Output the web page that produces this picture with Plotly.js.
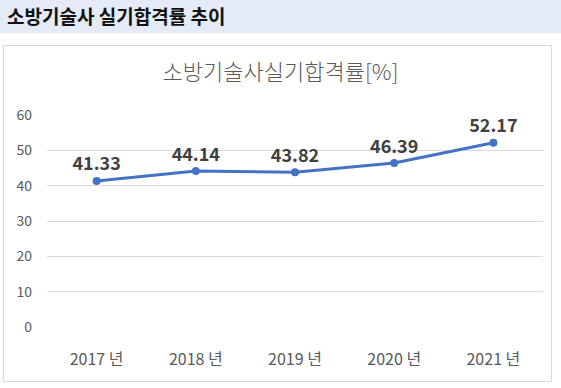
<!DOCTYPE html>
<html>
<head>
<meta charset="utf-8">
<script src="https://cdn.plot.ly/plotly-3.0.1.min.js"></script>
<style>
  html, body { margin: 0; padding: 0; background: #ffffff; }
  #wrap { position: relative; width: 561px; height: 388px; overflow: hidden; }
  #header { position: absolute; left: 0; top: 0; width: 561px; height: 33px; background: #E4EAF6;
    font-family: "Noto Sans CJK KR", "Noto Sans", sans-serif; font-weight: bold; font-size: 19px;
    color: #111111; line-height: 31px; padding-left: 7px; box-sizing: border-box; }
  #box { position: absolute; left: 3px; top: 45px; width: 549px; height: 337px; border: 1px solid #D9D9D9; box-sizing: border-box; }
  #chart { position: absolute; left: 0; top: 0; width: 561px; height: 388px; }
</style>
</head>
<body>
<div id="wrap">
  <div id="header">소방기술사 실기합격률 추이</div>
  <div id="box"></div>
  <div id="chart"></div>
</div>
<script>
const categories = ["2017 년", "2018 년", "2019 년", "2020 년", "2021 년"];
const passRates = [41.33, 44.14, 43.82, 46.39, 52.17];
const yTicks = [0, 10, 20, 30, 40, 50, 60];
const chartTitle = "소방기술사실기합격률[%]";

const trace = {
  x: categories,
  y: passRates,
  type: "scatter",
  mode: "lines+markers+text",
  line: { color: "#4472C4", width: 3 },
  marker: { color: "#4472C4", size: 8 },
  text: passRates.map(v => v.toFixed(2)),
  textposition: "top center",
  textfont: { family: "Noto Sans CJK KR, Noto Sans, sans-serif", size: 18, color: "#404040", weight: "bold" },
  cliponaxis: false,
  hoverinfo: "none"
};

const layout = {
  width: 561,
  height: 388,
  margin: { l: 47, r: 18, t: 115, b: 61 },
  paper_bgcolor: "rgba(0,0,0,0)",
  plot_bgcolor: "rgba(0,0,0,0)",
  showlegend: false,
  title: {
    text: chartTitle,
    font: { family: "Noto Sans CJK KR, sans-serif", size: 22, color: "#595959", weight: 300 },
    x: 0.5, xanchor: "center",
    y: 1 - 72 / 388, yanchor: "middle"
  },
  xaxis: {
    type: "category",
    range: [-0.5, 4.5],
    showgrid: false,
    zeroline: false,
    showline: false,
    ticks: "outside",
    ticklen: 18,
    tickcolor: "rgba(0,0,0,0)",
    tickfont: { family: "Noto Sans CJK KR, sans-serif", size: 16, color: "#595959" }
  },
  yaxis: {
    range: [0, 60],
    tickvals: yTicks,
    ticktext: yTicks.map(String),
    showgrid: true,
    gridcolor: "#D9D9D9",
    gridwidth: 1,
    zeroline: false,
    showline: false,
    ticks: "",
    tickfont: { family: "Noto Sans CJK KR, sans-serif", size: 14, color: "#595959" },
    ticklabelstandoff: 14
  }
};

Plotly.newPlot("chart", [trace], layout, { displayModeBar: false, staticPlot: true });
</script>
</body>
</html>
